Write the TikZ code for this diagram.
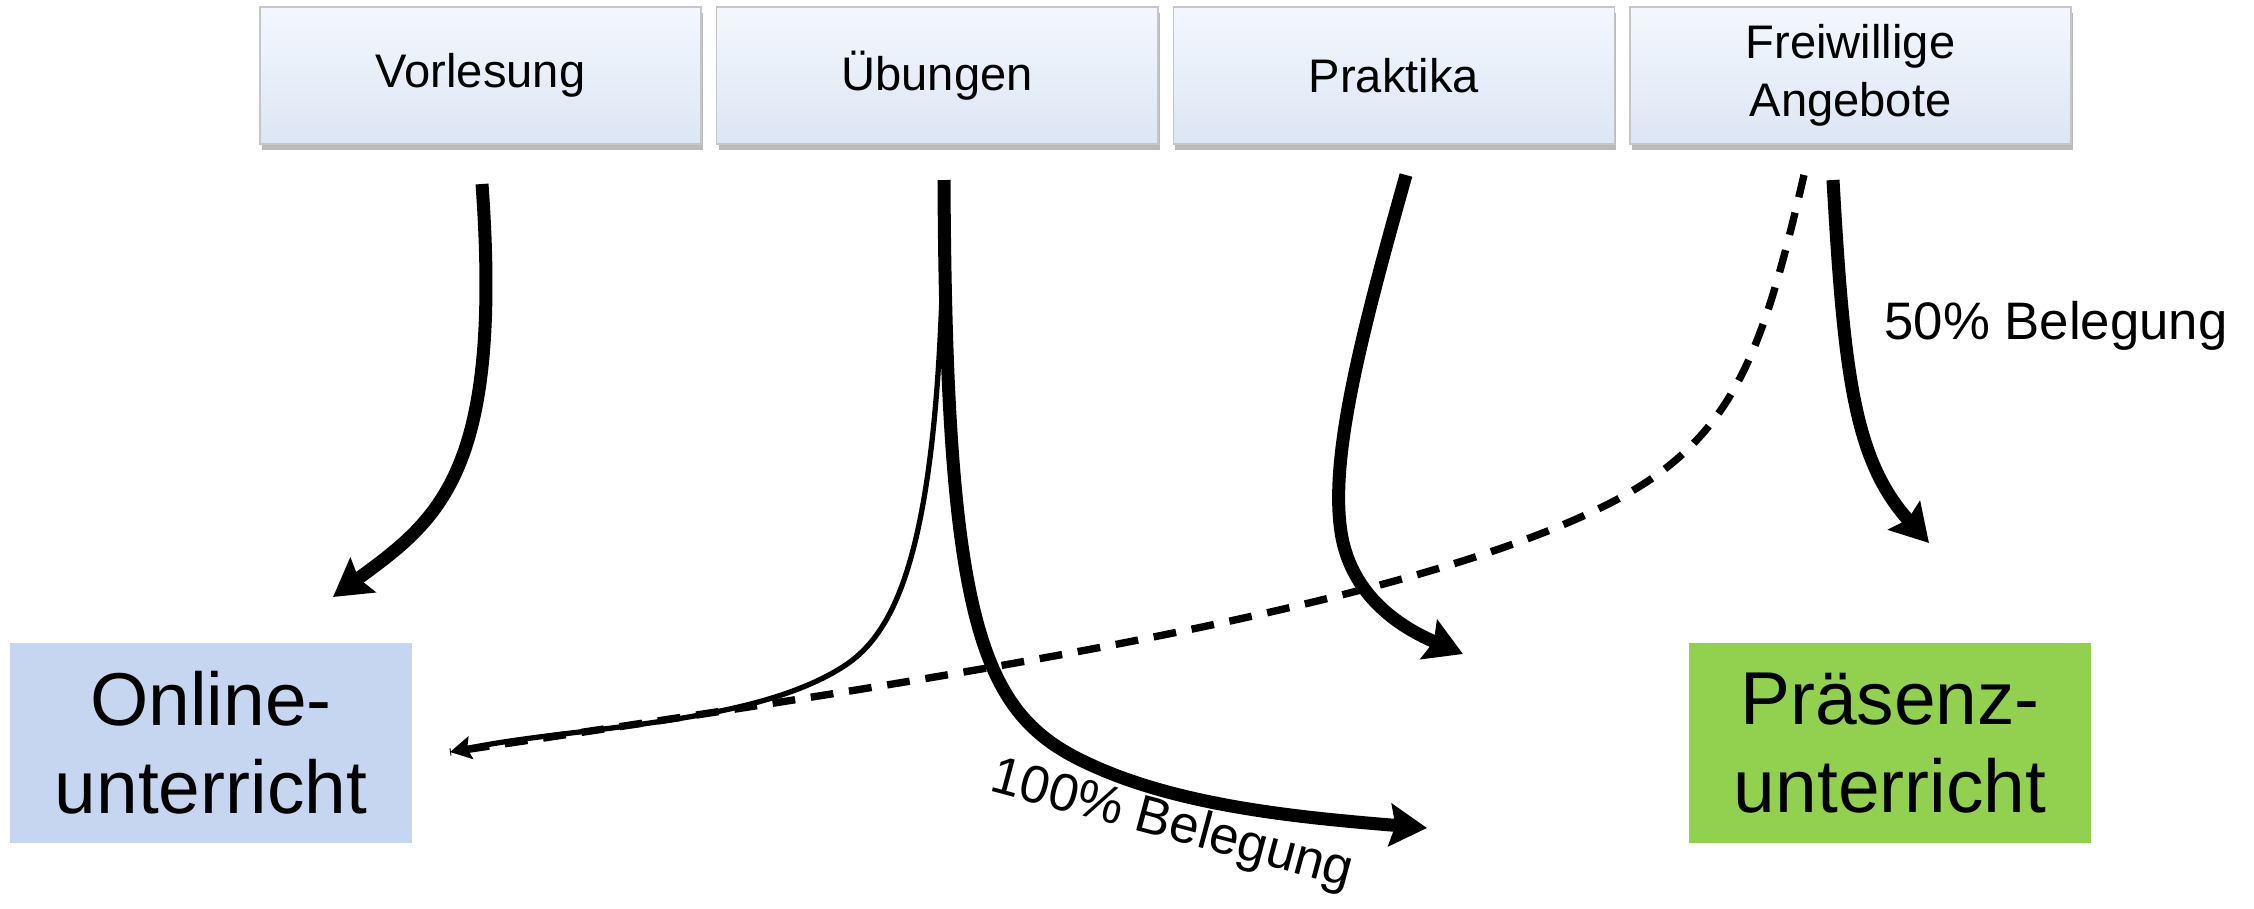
\documentclass[tikz,border=0pt]{standalone}
\usepackage{fontspec}
\setmainfont{Liberation Sans}
\usetikzlibrary{positioning,arrows.meta,shadows}
\definecolor{boxtop}{HTML}{F4F7FD}
\definecolor{boxbot}{HTML}{DCE6F4}
\definecolor{onlineblue}{HTML}{C6D6F0}
\definecolor{praesgreen}{HTML}{92D050}
\tikzset{
  kind/.style={draw=gray!45, top color=boxtop, bottom color=boxbot,
    minimum width=4.41cm, minimum height=1.37cm, inner sep=0pt, align=center,
    font=\fontsize{13.4}{16.5}\selectfont,
    drop shadow={shadow xshift=0.02cm, shadow yshift=-0.06cm, fill=black!60, opacity=0.45}},
  mode/.style={minimum width=4.02cm, minimum height=2cm, inner sep=0pt, align=center,
    font=\fontsize{21.3}{25}\selectfont},
  flow/.style={line width=3.7pt, -{Stealth[length=10.5pt,width=12pt,inset=1.5pt]}},
  thinflow/.style={line width=1.5pt, -{Stealth[length=6pt,width=6.5pt,inset=1pt]}},
  maybe/.style={line width=2.1pt, dash pattern=on 6.5pt off 4.5pt},
  share/.style={font=\fontsize{15}{18}\selectfont}
}
\begin{document}
\begin{tikzpicture}[x=0.01cm,y=-0.01cm]
\useasboundingbox (0,0) rectangle (2254,908);
% kinds of teaching (top row)
\node[kind] (vor) at (480.5,75.5) {Vorlesung};
\node[kind, right=0.14cm of vor] (ueb) {Übungen};
\node[kind, right=0.14cm of ueb] (pra) {Praktika};
\node[kind, right=0.14cm of pra] (frei) {Freiwillige\\Angebote};
% modes (bottom)
\node[mode, fill=onlineblue] (online) at (211,743) {Online-\\unterricht};
\node[mode, fill=praesgreen] (praes) at (1890,743) {Präsenz-\\unterricht};
% loose ends of the arrows
\coordinate (vorS) at (482,184);
\coordinate (vorE) at (333,597);
\coordinate (uebS) at (944,180);
\coordinate (onE) at (450,752);
\coordinate (uebE) at (1427,828);
\coordinate (praS) at (1406,175);
\coordinate (praE) at (1463,654);
\coordinate (freiS) at (1833,180);
\coordinate (freiE) at (1929,543);
\coordinate (freiD) at (1804,175);
% arrows
\draw[flow] (vorS) .. controls (503,474) and (438,520) .. (vorE);
\draw[maybe] (freiD) .. controls (1761,359) and (1732,446) .. (1596,510)
  .. controls (1366,620) and (863,690) .. (onE);
\draw[thinflow] (uebS) .. controls (943,546) and (898,633) .. (841,668)
  .. controls (748,726) and (575,726) .. (onE);
\draw[flow] (uebS) .. controls (946,604) and (978,704) .. (1071,755)
  .. controls (1164,805) and (1294,817) .. (uebE);
\draw[flow] (praS) .. controls (1358,345) and (1330,460) .. (1341,532)
  .. controls (1351,597) and (1402,628) .. (praE);
\draw[flow] (freiS) .. controls (1844,374) and (1854,460) .. (freiE);
% labels
\node[share] (half) at (2056,326) {50\% Belegung};
\node[share, rotate=-15] (full) at (1172,826) {100\% Belegung};
\end{tikzpicture}
\end{document}
